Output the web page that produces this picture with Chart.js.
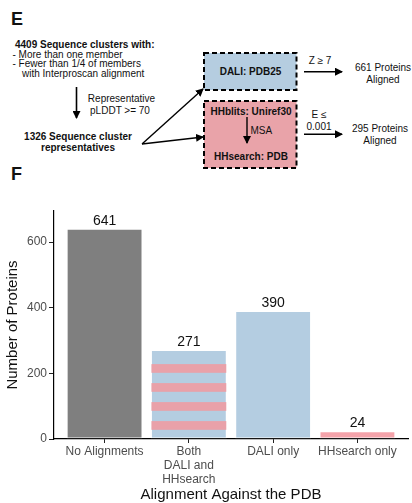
<!DOCTYPE html>
<html>
<head>
<meta charset="utf-8">
<script src="https://cdn.jsdelivr.net/npm/chart.js@4/dist/chart.umd.min.js"></script>
<style>
  html, body { margin: 0; padding: 0; background: #fff; }
  #page { position: relative; width: 412px; height: 503px; overflow: hidden; font-family: "Liberation Sans", Arial, sans-serif; }
  #flow { position: absolute; left: 0; top: 0; }
  #chartBox { position: absolute; left: 0; top: 185px; width: 412px; height: 318px; }
  #flow text { font-family: "Liberation Sans", Arial, sans-serif; font-size: 10px; fill: #111; dominant-baseline: central; }
  #flow .b { font-weight: bold; }
  #flow .panel { font-size: 18px; font-weight: bold; }
</style>
</head>
<body>
<div id="page">
  <svg id="flow" width="412" height="185" viewBox="0 0 412 185">
    <defs>
      <marker id="head" markerWidth="8" markerHeight="8" refX="7" refY="4" orient="auto" markerUnits="userSpaceOnUse">
        <path d="M0,0 L8,4 L0,8 Z" fill="#000"/>
      </marker>
    </defs>
    <text class="panel" x="11" y="19">E</text>
    <text class="panel" x="11" y="174">F</text>

    <text class="b" x="15" y="44.5">4409 Sequence clusters with:</text>
    <text x="12.5" y="54">- More than one member</text>
    <text x="12.5" y="63.5">- Fewer than 1/4 of members</text>
    <text x="22" y="73">with Interproscan alignment</text>

    <line x1="76.5" y1="87" x2="76.5" y2="118" stroke="#000" stroke-width="1.6" marker-end="url(#head)"/>
    <text x="121.5" y="98.7" text-anchor="middle">Representative</text>
    <text x="120" y="110" text-anchor="middle">pLDDT &gt;= 70</text>

    <text class="b" x="78" y="136.7" text-anchor="middle">1326 Sequence cluster</text>
    <text class="b" x="78" y="147.3" text-anchor="middle">representatives</text>

    <line x1="142" y1="144" x2="203" y2="89" stroke="#000" stroke-width="1.4" marker-end="url(#head)"/>
    <line x1="142" y1="144" x2="203" y2="137" stroke="#000" stroke-width="1.4" marker-end="url(#head)"/>

    <rect x="204" y="53" width="92.5" height="37" fill="#b5cde0" stroke="#000" stroke-width="2" stroke-dasharray="5 3"/>
    <text class="b" x="250.5" y="71.3" text-anchor="middle">DALI: PDB25</text>

    <rect x="204" y="101" width="92.5" height="67" fill="#e9a3a9" stroke="#000" stroke-width="2" stroke-dasharray="5 3"/>
    <text class="b" x="251" y="111.7" text-anchor="middle">HHblits: Uniref30</text>
    <line x1="247" y1="117" x2="247" y2="143" stroke="#000" stroke-width="1.4" marker-end="url(#head)"/>
    <text x="250.5" y="130">MSA</text>
    <text class="b" x="251" y="156" text-anchor="middle">HHsearch: PDB</text>

    <line x1="304" y1="71.7" x2="342" y2="71.7" stroke="#000" stroke-width="1.6" marker-end="url(#head)"/>
    <text x="320" y="60" text-anchor="middle">Z ≥ 7</text>
    <text x="383" y="67.3" text-anchor="middle">661 Proteins</text>
    <text x="383" y="79.3" text-anchor="middle">Aligned</text>

    <line x1="304" y1="134.3" x2="342" y2="134.3" stroke="#000" stroke-width="1.6" marker-end="url(#head)"/>
    <text x="319" y="114" text-anchor="middle">E ≤</text>
    <text x="319" y="126.7" text-anchor="middle">0.001</text>
    <text x="380" y="128.7" text-anchor="middle">295 Proteins</text>
    <text x="380" y="140" text-anchor="middle">Aligned</text>
  </svg>
  <div id="chartBox"><canvas id="chart"></canvas></div>
</div>
<script>
// panel F data
var categories = [["No Alignments"], ["Both", "DALI and", "HHsearch"], ["DALI only"], ["HHsearch only"]];
var proteinCounts = [641, 271, 390, 24];
var yTickValues = [0, 200, 400, 600];

var FONT = '"Liberation Sans", Arial, sans-serif';
var GREY = '#7f7f7f', BLUE = '#b4cde1', PINK = '#f4a3aa', STRIPE = '#e9a1a9';

// pink stripes over the "Both" bar
var stripePlugin = {
	id: 'stripes',
	afterDatasetsDraw: function(chart) {
		var bar = chart.getDatasetMeta(0).data[1];
		if (!bar)
			return;
		var p = bar.getProps(['x', 'y', 'base', 'width'], true);
		var ctx = chart.ctx;
		ctx.save();
		ctx.fillStyle = STRIPE;
		for (var k = 0; k < 4; k++) {
			var bottom = p.base - 8.7 - 19 * k;
			ctx.fillRect(p.x - p.width / 2 + 0.5, bottom - 8.7, p.width - 1, 8.7);
		}
		ctx.restore();
	}
};

// count labels above bars
var valuePlugin = {
	id: 'values',
	afterDatasetsDraw: function(chart) {
		var ctx = chart.ctx;
		ctx.save();
		ctx.font = '14px ' + FONT;
		ctx.fillStyle = '#111';
		ctx.textAlign = 'center';
		ctx.textBaseline = 'alphabetic';
		chart.getDatasetMeta(0).data.forEach(function(bar, i) {
			ctx.fillText(String(proteinCounts[i]), bar.x, bar.y - 4);
		});
		ctx.restore();
	}
};

new Chart(document.getElementById('chart').getContext('2d'), {
	type: 'bar',
	data: {
		datasets: [{
			data: proteinCounts.map(function(v, i) { return { x: i + 1, y: v }; }),
			backgroundColor: [GREY, BLUE, BLUE, PINK],
			borderColor: 'rgba(255,255,255,0.35)',
			borderWidth: 1,
			borderSkipped: false,
			barPercentage: 0.9,
			categoryPercentage: 1
		}]
	},
	options: {
		responsive: true,
		maintainAspectRatio: false,
		animation: false,
		layout: { padding: { top: 26, right: 4, left: 0, bottom: 0 } },
		plugins: { legend: { display: false }, tooltip: { enabled: false } },
		scales: {
			x: {
				type: 'linear',
				offset: false,
				min: 0.4,
				max: 4.6,
				afterBuildTicks: function(scale) {
					scale.ticks = categories.map(function(c, i) { return { value: i + 1 }; });
				},
				afterFit: function(scale) { scale.height = 64; },
				grid: { display: true, offset: false, drawOnChartArea: false, drawTicks: true, tickLength: 4, color: '#222', lineWidth: 1 },
				border: { display: true, color: '#000', width: 1.2 },
				ticks: {
					autoSkip: false,
					maxRotation: 0,
					padding: 2,
					color: '#4d4d4d',
					font: { family: FONT, size: 12, lineHeight: 1.17 },
					callback: function(v, i) { return categories[i]; }
				},
				title: {
					display: true,
					text: 'Alignment Against the PDB',
					color: '#111',
					font: { family: FONT, size: 15, lineHeight: 1.1 },
					padding: { top: 0, bottom: 0 }
				}
			},
			y: {
				min: 0,
				max: 695,
				afterBuildTicks: function(scale) {
					scale.ticks = yTickValues.map(function(v) { return { value: v }; });
				},
				afterFit: function(scale) { scale.width = 54; },
				grid: { display: true, drawOnChartArea: false, drawTicks: true, tickLength: 5, color: '#222', lineWidth: 1 },
				border: { display: true, color: '#000', width: 1.2 },
				ticks: {
					padding: 2,
					color: '#4d4d4d',
					font: { family: FONT, size: 12 }
				},
				title: {
					display: true,
					text: 'Number of Proteins',
					color: '#111',
					font: { family: FONT, size: 15, lineHeight: 1.2 },
					padding: { top: 4, bottom: 0 }
				}
			}
		}
	},
	plugins: [stripePlugin, valuePlugin]
});
</script>
</body>
</html>
